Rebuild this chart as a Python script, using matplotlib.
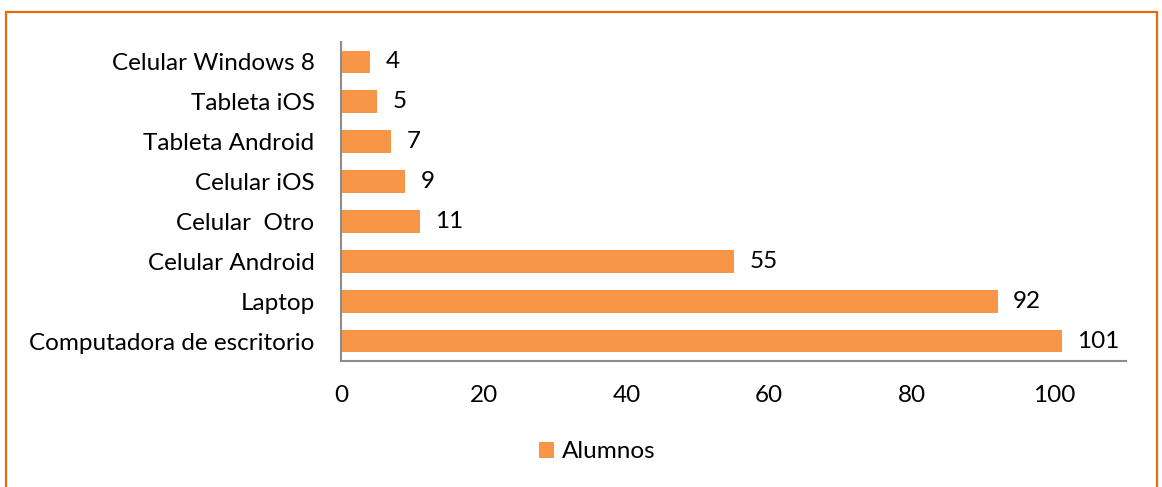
import matplotlib
matplotlib.use("Agg")
import matplotlib.pyplot as plt
from matplotlib.patches import Rectangle

categories = ["Computadora de escritorio", "Laptop", "Celular Android", "Celular  Otro",
              "Celular iOS", "Tableta Android", "Tableta iOS", "Celular Windows 8"]
values = [101, 92, 55, 11, 9, 7, 5, 4]
series_name = "Alumnos"
xticks = [0, 20, 40, 60, 80, 100]

plt.rcParams['font.family'] = ['Lato', 'DejaVu Sans']
W, H = 1162, 487
fig = plt.figure(figsize=(W/100, H/100), dpi=100)
ax = fig.add_axes([341/W, 1-361/H, (1126-341)/W, (361-42)/H])

fs = 17.5
bar_color = '#F79646'
y = list(range(len(categories)))
bars = ax.barh(y, values, height=0.57, color=bar_color, label=series_name)
for yi, v in zip(y, values):
    ax.text(v + 2.2, yi, str(v), va='center', ha='left', fontsize=fs, color='black')

ax.set_ylim(-0.5, len(categories) - 0.5)
ax.set_xlim(0, 110)
ax.set_yticks(y)
ax.set_yticklabels(categories, fontsize=fs)
ax.set_xticks(xticks)
ax.set_xticklabels([str(t) for t in xticks], fontsize=fs)
ax.tick_params(axis='both', length=0)
ax.tick_params(axis='y', pad=19)
ax.tick_params(axis='x', pad=17)
for s in ['top', 'right']:
    ax.spines[s].set_visible(False)
for s in ['left', 'bottom']:
    ax.spines[s].set_color('#8C8C8C')
    ax.spines[s].set_linewidth(1.5)

leg = fig.legend(handles=[bars], labels=[series_name], loc='center', bbox_to_anchor=(597/W, 1-452/H),
                 frameon=False, fontsize=fs, handlelength=0.65, handleheight=0.65, handletextpad=0.3)

border = Rectangle((6/W, -0.05), (1157-6)/W, (487-12)/H + 0.05, transform=fig.transFigure,
                   fill=False, edgecolor='#E46C0A', linewidth=1.6, clip_on=False)
fig.patches.append(border)

fig.savefig("out.png", dpi=100)
